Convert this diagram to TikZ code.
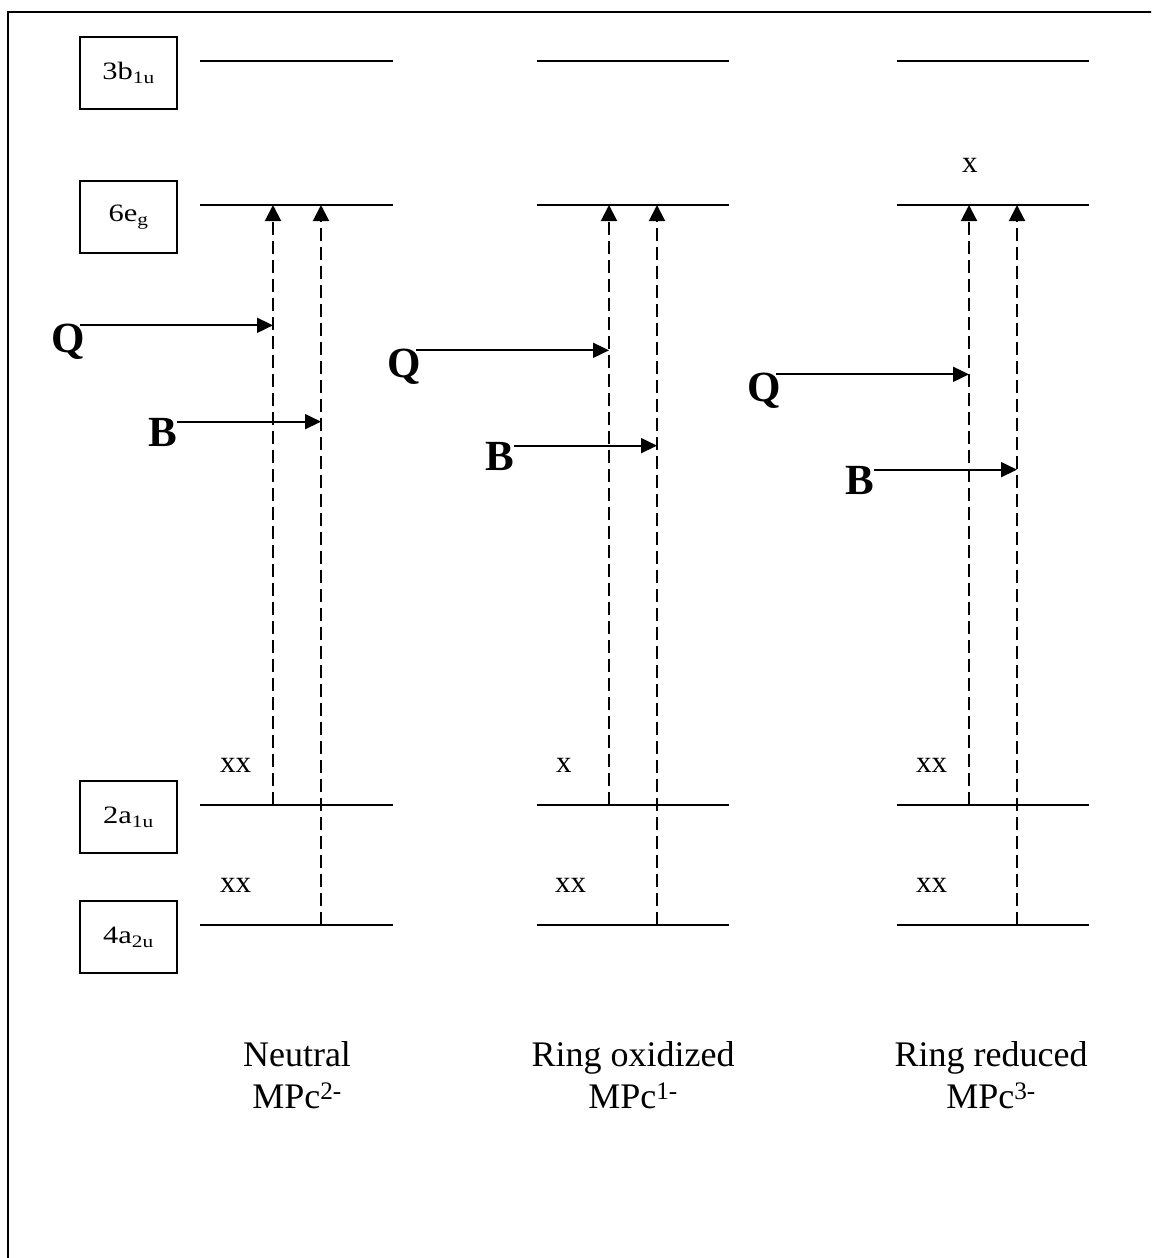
\documentclass[tikz,border=0pt]{standalone}
\usepackage{fontspec}
\setmainfont{Liberation Serif}
\newfontfamily\lblfont[FakeStretch=1.22]{Liberation Serif}
\usetikzlibrary{arrows.meta,calc}
\begin{document}
\begin{tikzpicture}[x=1pt,y=-1pt,
  frameline/.style={line width=2.8pt},
  levelline/.style={line width=2pt},
  lbl/.style={draw, line width=1.8pt, minimum width=97pt, minimum height=72pt, inner sep=0pt,
    font=\lblfont\fontsize{25}{28}\selectfont},
  trans/.style={line width=2pt, dash pattern=on 13pt off 6pt, -{Triangle[length=16pt,width=16pt]}},
  hin/.style={line width=1.8pt, -{Triangle[length=16pt,width=15pt]}},
  qb/.style={font=\bfseries\fontsize{43}{48}\selectfont, inner sep=0pt, anchor=base west},
  occ/.style={font=\fontsize{31}{34}\selectfont, inner sep=0pt, anchor=base west},
  capt/.style={font=\fontsize{36}{42}\selectfont, align=center, inner sep=0pt, anchor=north}
]
\useasboundingbox (0,0) rectangle (1151,1258);
\clip (0,0) rectangle (1151,1258);
\fill[white] (0,0) rectangle (1151,1258);
% outer frame (open at right and bottom)
\draw[frameline] (8,1270) -- (8,12) -- (1170,12);

% orbital labels
\node[lbl] (L3b) at (128.5,73) {3b\textsubscript{1u}};
\node[lbl] (L6e) at (128.5,217) {6e\textsubscript{g}};
\node[lbl] (L2a) at (128.5,817) {2a\textsubscript{1u}};
\node[lbl] (L4a) at (128.5,937) {4a\textsubscript{2u}};

% energy levels
\foreach \l/\r in {200/393, 537/729, 897/1089}{
  \foreach \y in {61,205,805,925}{
    \draw[levelline] (\l,\y) -- (\r,\y);
  }
}

% transition coordinates
\coordinate (lo1) at (273,805); \coordinate (hi1) at (273,205);
\coordinate (lo1b) at (321,925); \coordinate (hi1b) at (321,205);
\coordinate (lo2) at (609,805); \coordinate (hi2) at (609,205);
\coordinate (lo2b) at (657,925); \coordinate (hi2b) at (657,205);
\coordinate (lo3) at (969,805); \coordinate (hi3) at (969,205);
\coordinate (lo3b) at (1017,925); \coordinate (hi3b) at (1017,205);

\draw[trans] (lo1) -- (hi1);
\draw[trans] (lo1b) -- (hi1b);
\draw[trans] (lo2) -- (hi2);
\draw[trans] (lo2b) -- (hi2b);
\draw[trans] (lo3) -- (hi3);
\draw[trans] (lo3b) -- (hi3b);

% Q and B labels
\node[qb] (Q1) at (51.5,352) {Q};
\node[qb] (Q2) at (387.5,377) {Q};
\node[qb] (Q3) at (747.5,401) {Q};
\node[qb] (B1) at (148.4,446) {B};
\node[qb] (B2) at (485,470) {B};
\node[qb] (B3) at (845,494) {B};

\foreach \k in {1,2,3}{
  \coordinate (qs\k) at ([xshift=-5pt,yshift=-2pt]Q\k.north east);
  \draw[hin] (qs\k) -- (qs\k -| lo\k);
  \coordinate (bs\k) at ([yshift=-4pt]B\k.north east);
  \draw[hin] (bs\k) -- (bs\k -| lo\k b);
}

% occupancies
\node[occ] (o1a) at (220,772) {xx};
\node[occ] (o1b) at (220,892) {xx};
\node[occ] (o2a) at (556,772) {x};
\node[occ] (o2b) at (555,892) {xx};
\node[occ] (o3a) at (916,772) {xx};
\node[occ] (o3b) at (916,892) {xx};
\node[occ] (o3c) at (962,172) {x};

% captions
\node[capt] (c1) at (297,1041.5) {Neutral\\MPc\textsuperscript{2-}};
\node[capt] (c2) at (633,1041.5) {Ring oxidized\\MPc\textsuperscript{1-}};
\node[capt] (c3) at (991,1041.5) {Ring reduced\\MPc\textsuperscript{3-}};
\end{tikzpicture}
\end{document}
